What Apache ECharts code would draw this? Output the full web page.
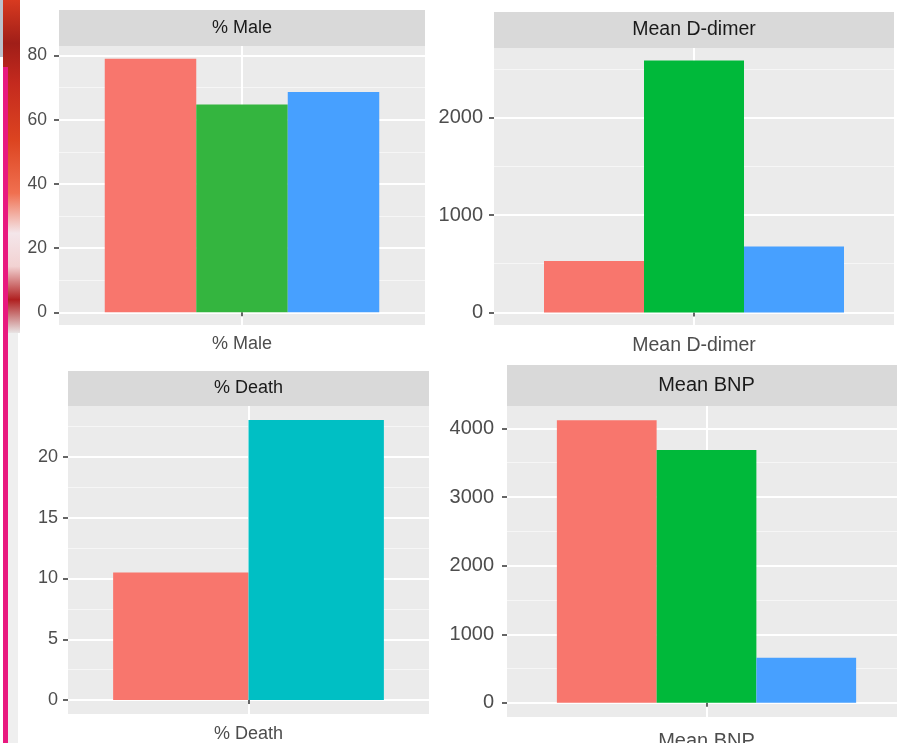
<!DOCTYPE html>
<html>
<head>
<meta charset="utf-8">
<script src="https://cdn.jsdelivr.net/npm/echarts@6/dist/echarts.min.js"></script>
<style>
  html, body { margin: 0; padding: 0; background: #fff; overflow: hidden; }
  #chart { width: 912px; height: 760px; }
</style>
</head>
<body>
<div id="chart"></div>
<script>
// facet titles
const panelNames = ['% Male', 'Mean D-dimer', '% Death', 'Mean BNP'];

// bar values per facet
const maleValues = [79.0, 64.7, 68.6];
const ddimerValues = [529, 2585, 677];
const deathValues = [10.5, 23.05];
const bnpValues = [4121, 3684, 656];

// fill colours per facet
const maleColors = ['#F8766D', '#34B53F', '#47A0FF'];
const ddimerColors = ['#F8766D', '#00B93A', '#47A0FF'];
const deathColors = ['#F8766D', '#00BFC4'];
const bnpColors = ['#F8766D', '#00B93A', '#47A0FF'];

// y ticks (major / minor gridlines)
const maleTicks = [0, 20, 40, 60, 80];
const maleMinor = [10, 30, 50, 70];
const ddimerTicks = [0, 1000, 2000];
const ddimerMinor = [500, 1500, 2500];
const deathTicks = [0, 5, 10, 15, 20];
const deathMinor = [2.5, 7.5, 12.5, 17.5, 22.5];
const bnpTicks = [0, 1000, 2000, 3000, 4000];
const bnpMinor = [500, 1500, 2500, 3500];

const FONT = '"Liberation Sans", Arial, Helvetica, sans-serif';

// layout of each facet: panel rect, strip, font sizes
const panels = [
  { name: panelNames[0], values: maleValues, colors: maleColors, ticks: maleTicks, minor: maleMinor,
    grid: { left: 59, top: 46, width: 366, height: 279 }, stripTop: 10, labelSize: 17.5, stripSize: 18, yMargin: 12, xMargin: 10 },
  { name: panelNames[1], values: ddimerValues, colors: ddimerColors, ticks: ddimerTicks, minor: ddimerMinor,
    grid: { left: 494, top: 48, width: 400, height: 277 }, stripTop: 12, labelSize: 20, stripSize: 19.5, yMargin: 11, xMargin: 11 },
  { name: panelNames[2], values: deathValues, colors: deathColors, ticks: deathTicks, minor: deathMinor,
    grid: { left: 68, top: 406, width: 361, height: 308 }, stripTop: 371, labelSize: 18, stripSize: 18, yMargin: 10, xMargin: 11 },
  { name: panelNames[3], values: bnpValues, colors: bnpColors, ticks: bnpTicks, minor: bnpMinor,
    grid: { left: 507, top: 406, width: 399, height: 311 }, stripTop: 365, labelSize: 20, stripSize: 20, yMargin: 13, xMargin: 14 }
];

const grids = [], xAxes = [], yAxes = [], series = [], graphics = [];

// stray screenshot edge on the left
graphics.push(
  { type: 'rect', shape: { x: 0, y: 0, width: 20, height: 333 },
    style: { fill: new echarts.graphic.LinearGradient(0, 0, 0, 1, [
      { offset: 0, color: '#D83A20' }, { offset: 0.13, color: '#A01E18' }, { offset: 0.25, color: '#C42A1E' },
      { offset: 0.42, color: '#DC4420' }, { offset: 0.58, color: '#F07050' }, { offset: 0.7, color: '#F4E6EA' },
      { offset: 0.8, color: '#F2D2D2' }, { offset: 0.9, color: '#B02020' }, { offset: 1, color: '#E8E4E4' }
    ]) }, z: 1 },
  { type: 'rect', shape: { x: 0, y: 0, width: 3, height: 57 }, style: { fill: '#BCC2CC' }, z: 2 },
  { type: 'rect', shape: { x: 0, y: 57, width: 3, height: 703 }, style: { fill: '#ffffff' }, z: 2 },
  { type: 'rect', shape: { x: 8, y: 333, width: 10, height: 427 }, style: { fill: '#EFEFEF' }, z: 2 },
  { type: 'rect', shape: { x: 3, y: 67, width: 5, height: 693 }, style: { fill: '#E8197F' }, z: 3 }
);

panels.forEach(function (p, i) {
  const vmax = Math.max.apply(null, p.values);
  const lo = -0.05 * vmax, hi = 1.05 * vmax;

  grids.push(Object.assign({ show: true, backgroundColor: '#EBEBEB', borderWidth: 0,
    containLabel: false, outerBoundsMode: 'none' }, p.grid));

  // strip
  graphics.push({
    type: 'group', z: 5,
    children: [
      { type: 'rect', shape: { x: p.grid.left, y: p.stripTop, width: p.grid.width, height: p.grid.top - p.stripTop },
        style: { fill: '#D9D9D9' } },
      { type: 'text', x: p.grid.left + p.grid.width / 2, y: (p.stripTop + p.grid.top) / 2,
        style: { text: p.name, fill: '#1A1A1A', font: p.stripSize + 'px ' + FONT, textAlign: 'center', textVerticalAlign: 'middle' } }
    ]
  });

  // category axis carrying the bars (hidden)
  xAxes.push({ type: 'category', gridIndex: i, position: 'bottom', data: [p.name], show: false });
  // visible x axis: single centred tick, label and vertical gridline
  xAxes.push({
    type: 'value', gridIndex: i, position: 'bottom', min: 0.4, max: 1.6,
    axisLine: { show: false },
    axisTick: { show: true, customValues: [1], length: 4, lineStyle: { color: '#333', width: 1.5 } },
    axisLabel: { customValues: [1], formatter: function () { return p.name; }, color: '#4D4D4D',
      fontSize: p.stripSize, fontFamily: FONT, margin: p.xMargin },
    splitLine: { show: true, lineStyle: { color: '#ffffff', width: 2 } }
  });

  yAxes.push({
    type: 'value', gridIndex: i, position: 'left', min: lo, max: hi,
    axisLine: { show: false },
    axisTick: { show: true, customValues: p.ticks, length: 5, lineStyle: { color: '#333', width: 1.5 } },
    axisLabel: { customValues: p.ticks, formatter: function (v) { return String(v); }, color: '#4D4D4D',
      fontSize: p.labelSize, fontFamily: FONT, margin: p.yMargin },
    splitLine: { show: true, lineStyle: { color: '#ffffff', width: 2 } }
  });
  yAxes.push({
    type: 'value', gridIndex: i, position: 'left', min: lo, max: hi,
    axisLine: { show: false },
    axisTick: { show: false, customValues: p.minor },
    axisLabel: { show: false, customValues: p.minor },
    splitLine: { show: true, lineStyle: { color: '#F6F6F6', width: 1 } }
  });

  p.values.forEach(function (v, k) {
    series.push({
      type: 'bar', xAxisIndex: 2 * i, yAxisIndex: 2 * i,
      data: [v], barGap: '0%', barCategoryGap: '25%',
      itemStyle: { color: p.colors[k] }, silent: true, z: 3
    });
  });
});

const chart = echarts.init(document.getElementById('chart'), null, { renderer: 'canvas' });
chart.setOption({
  animation: false,
  backgroundColor: '#ffffff',
  grid: grids,
  xAxis: xAxes,
  yAxis: yAxes,
  series: series,
  graphic: graphics
});
</script>
</body>
</html>
